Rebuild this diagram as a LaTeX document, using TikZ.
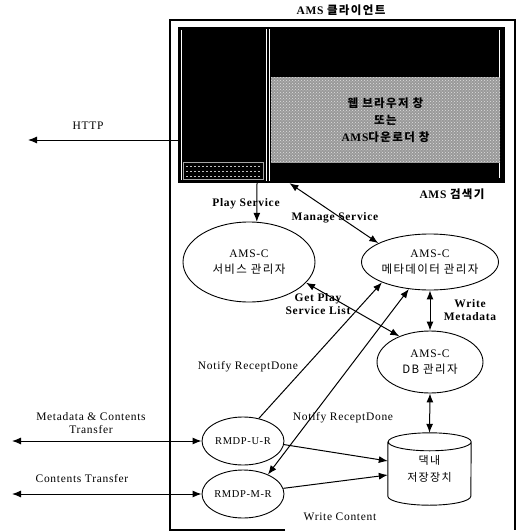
\documentclass[tikz,border=0pt]{standalone}
\usepackage{fontspec}
\setmainfont{Liberation Serif}[LetterSpace=6]
\newfontfamily\kr{Noto Sans CJK KR}[LetterSpace=12]
\usetikzlibrary{shapes.geometric,arrows.meta,patterns}
\begin{document}
\begin{tikzpicture}[x=1pt,y=-1pt,
  frame/.style={line width=1.1pt},
  arr/.style={line width=1pt,-{Latex[length=9pt,width=7pt]}},
  darr/.style={line width=1pt,{Latex[length=9pt,width=7pt]}-{Latex[length=9pt,width=7pt]}},
  ell/.style={ellipse,draw,line width=0.9pt,inner sep=0pt,align=center,font=\fontsize{11.5}{16}\selectfont},
  lbl/.style={inner sep=0pt,align=center,font=\fontsize{11.5}{13}\selectfont},
  blbl/.style={inner sep=0pt,align=center,font=\bfseries\fontsize{11.5}{13}\selectfont}]
\useasboundingbox (0,0) rectangle (518,532);

% outer frame
\draw[frame] (285,530) -- (170,530) -- (170,20) -- (515,20) -- (515,530);

% screenshot
\node[fill=black,minimum width=327pt,minimum height=156pt,inner sep=0pt] (scr) at (341.5,105) {};
\draw[white,line width=0.6pt] (181,30) -- (181,180);
\draw[white,line width=0.8pt] (266,29) -- (266,181);
\draw[white,line width=0.8pt] (269,29) -- (269,181);
\draw[white,line width=0.6pt] (499,30) -- (499,178);
\draw[gray!70,line width=0.4pt] (183,162) rectangle (263,179);
\foreach \yy in {166,171,176}{\draw[gray!50,line width=0.6pt,dash pattern=on 2pt off 2pt] (186,\yy) -- (260,\yy);}
\node[fill=gray!80,postaction={pattern=crosshatch dots,pattern color=gray!25},minimum width=229pt,minimum height=85pt,inner sep=0pt,align=center,font=\bfseries\fontsize{11.5}{17}\selectfont] (win) at (385.5,120) {{\kr 웹 브라우저 창}\\{\kr 또는}\\AMS{\kr 다운로더 창}};

% titles
\node[blbl] (tcl) at (341,10) {AMS {\kr 클라이언트}};
\node[blbl] (tsr) at (452,194) {AMS {\kr 검색기}};

% ellipses
\node[ell,minimum width=132pt,minimum height=80pt] (e1) at (249,262) {AMS-C\\{\kr 서비스 관리자}};
\node[ell,minimum width=130pt,minimum height=56pt] (e2) at (430,262) {AMS-C\\{\kr 메타데이터 관리자}};
\node[ell,minimum width=106pt,minimum height=62pt] (e3) at (430,362) {AMS-C\\{\kr DB 관리자}};
\node[ell,minimum width=82pt,minimum height=48pt,font=\fontsize{10.5}{13}\selectfont] (U) at (243,441) {RMDP-U-R};
\node[ell,minimum width=82pt,minimum height=48pt,font=\fontsize{10.5}{13}\selectfont] (M) at (243,494) {RMDP-M-R};

% storage cylinder
\node[minimum width=83pt,minimum height=72pt,inner sep=0pt,align=center,font=\fontsize{11}{17}\selectfont] (store) at (429.5,469) {{\kr 댁내}\\{\kr 저장장치}};
\draw[line width=0.9pt] ([yshift=-9pt]store.north west) -- ([yshift=9pt]store.south west)
  arc[start angle=180,end angle=360,x radius=41.5pt,y radius=9pt] -- ([yshift=-9pt]store.north east)
  arc[start angle=0,end angle=180,x radius=41.5pt,y radius=9pt]
  arc[start angle=180,end angle=360,x radius=41.5pt,y radius=9pt];

% external coordinates
\coordinate (httpL) at (28,140);
\coordinate (mcL) at (12,441);
\coordinate (ctL) at (12,494);

% connectors
\draw[arr] (scr.west |- httpL) -- (httpL);
\draw[arr] ([xshift=-84.5pt]scr.south) -- (e1.79);
\draw[darr] ([xshift=-52pt]scr.south) -- (e2.160);
\draw[darr] (e1.-20) -- (e3.140);
\draw[darr] (e2.south) -- (e3.north);
\draw[darr] (e3.south) -- (store.north);
\draw[arr] (U.55) -- (e2.203);
\draw[darr] (e2.232) -- (M.38);
\draw[arr] (U.-5) -- ([yshift=8pt]store.west);
\draw[arr] (M.8) -- ([yshift=-6pt]store.west);
\draw[darr] (mcL) -- (U.west);
\draw[darr] (ctL) -- (M.west);

% labels
\node[lbl] (lhttp) at (88,126) {HTTP};
\node[blbl] (lplay) at (246,204) {Play Service};
\node[blbl] (lman) at (335,218) {Manage Service};
\node[blbl] (lget) at (318,304) {Get Play\\Service List};
\node[blbl] (lwm) at (470,310) {Write\\Metadata};
\node[lbl] (ln1) at (248,367) {Notify ReceptDone};
\node[lbl] (ln2) at (343,418) {Notify ReceptDone};
\node[lbl] (lwc) at (340,517) {Write Content};
\node[lbl] (lmc) at (91,423) {Metadata \& Contents\\Transfer};
\node[lbl] (lct) at (82,479) {Contents Transfer};
\end{tikzpicture}
\end{document}
